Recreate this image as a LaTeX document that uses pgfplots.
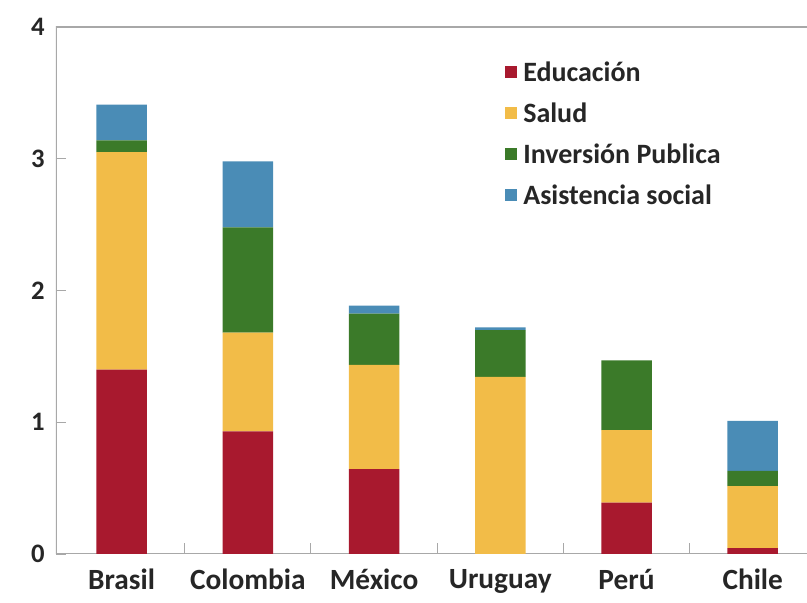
\documentclass[border=0pt]{standalone}
\usepackage{pgfplots}
\pgfplotsset{compat=1.18}
\usepackage{fontspec}
\setmainfont{Carlito}
\definecolor{cEdu}{HTML}{A8192E}
\definecolor{cSal}{HTML}{F2BC48}
\definecolor{cInv}{HTML}{3B7A29}
\definecolor{cAsi}{HTML}{4A8CB6}
\definecolor{cAx}{HTML}{A8A8A8}
\begin{document}
\begin{tikzpicture}
\begin{axis}[
  name=ax,
  at={(0,0)}, anchor=south west,
  scale only axis,
  width=563.25pt, height=395.25pt,
  ybar stacked, bar width=0.4,
  xmin=-0.52, xmax=5.43,
  ymin=0, ymax=4,
  ytick={0,1,2,3,4},
  xtick={0,1,2,3,4,5},
  xticklabels={Brasil,Colombia,México,Uruguay,Perú,Chile},
  minor xtick={0.5,1.5,2.5,3.5,4.5},
  tick align=inside,
  xtick pos=bottom, ytick pos=left,
  major x tick style={draw=none},
  minor tick length=8pt,
  major tick length=7.5pt,
  tick style={cAx, line width=0.8pt},
  axis line style={draw=none},
  /pgf/number format/assume math mode=true,
  yticklabel style={font=\fontsize{20}{22}\selectfont\bfseries, text=black!85, xshift=-5pt},
  xticklabel style={font=\fontsize{22}{25}\selectfont\bfseries, text=black!85, yshift=-8pt},
  legend style={at={(0.597,0.94)}, anchor=north west, draw=none, fill=none,
    font=\fontsize{21}{24}\selectfont\bfseries, text=black!85,
    row sep=10.5pt, inner sep=0pt},
  legend cell align=left,
  legend image code/.code={\fill[#1] (0pt,-4.5pt) rectangle (9pt,4.5pt);},
  every axis plot/.append style={draw=none},
]
\addplot[fill=cEdu] coordinates {(0,1.40) (1,0.93) (2,0.645) (3,0) (4,0.39) (5,0.045)};
\addplot[fill=cSal] coordinates {(0,1.65) (1,0.75) (2,0.79) (3,1.345) (4,0.55) (5,0.47)};
\addplot[fill=cInv] coordinates {(0,0.09) (1,0.80) (2,0.39) (3,0.355) (4,0.53) (5,0.115)};
\addplot[fill=cAsi] coordinates {(0,0.27) (1,0.50) (2,0.06) (3,0.02) (4,0) (5,0.38)};
\legend{\hspace{3pt}Educación,\hspace{3pt}Salud,\hspace{3pt}Inversión Publica,\hspace{3pt}Asistencia social}
\draw[cAx, line width=1pt] (rel axis cs:1,1) -- (rel axis cs:0,1) -- (rel axis cs:0,0) -- (rel axis cs:1,0);
\end{axis}
\path[use as bounding box] ([xshift=-42pt,yshift=-36.75pt]ax.south west) rectangle ([yshift=20.25pt]ax.north east);
\end{tikzpicture}
\end{document}
